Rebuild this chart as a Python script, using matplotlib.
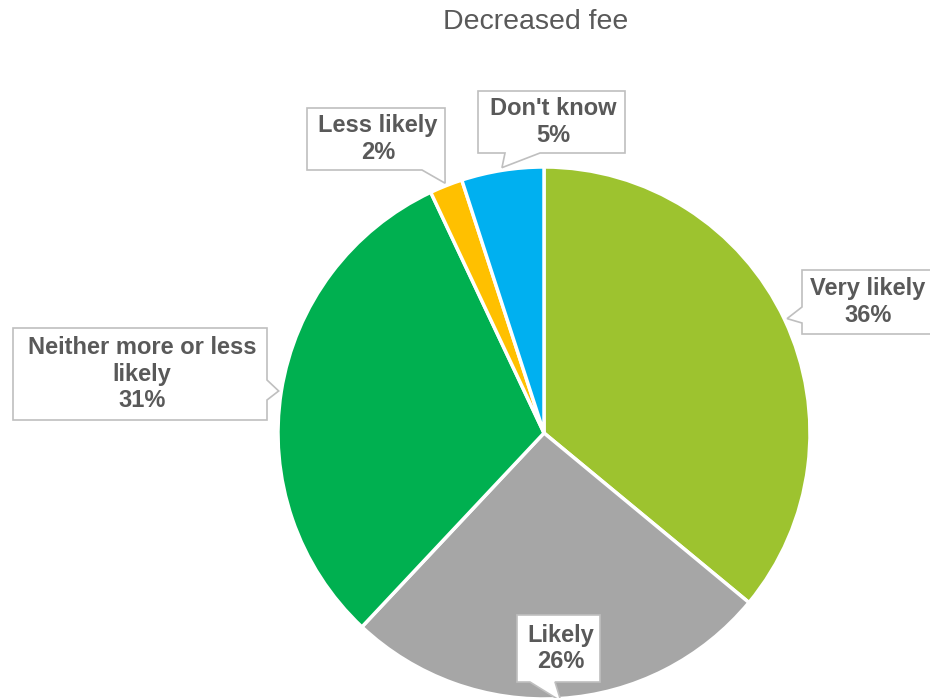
import numpy as np
import matplotlib
matplotlib.use("Agg")
import matplotlib.pyplot as plt
from matplotlib.patches import Polygon

plt.rcParams['font.family'] = ['Liberation Sans', 'DejaVu Sans']

# 数据
labels = ['Very likely', 'Likely', 'Neither more or less\nlikely', 'Less likely', "Don't know"]
values = [36, 26, 31, 2, 5]
colors = ['#9DC32F', '#A6A6A6', '#00B050', '#FFC000', '#00B0F0']
title = 'Decreased fee'

W, H = 930, 698
CX, CY, R = 544, 433, 266          # 饼图中心与半径（像素，y 向下）
TEXT_COLOR = '#595959'
EDGE_COLOR = '#BFBFBF'

# 标注框：(左, 上, 右, 下), 指针所在边, 指针底边两端
boxes = [
    ((802, 270, 935, 334), 'left', (307, 323)),
    ((517, 615, 600, 682), 'bottom', (530, 555)),
    ((13, 328, 267, 420), 'right', (380, 400)),
    ((307, 108, 445, 170), 'bottom', (422, 445)),
    ((478, 91, 625, 153), 'bottom', (505, 540)),
]


def py(y):
    return H - y


def callout_path(box, side, base, tip):
    l, t, r, b = box
    if side == 'bottom':
        pts = [(l, t), (r, t), (r, b), (base[1], b), tip, (base[0], b), (l, b)]
    elif side == 'left':
        pts = [(l, t), (r, t), (r, b), (l, b), (l, base[1]), tip, (l, base[0])]
    else:
        pts = [(l, t), (r, t), (r, base[0]), tip, (r, base[1]), (r, b), (l, b)]
    return [(x, py(y)) for x, y in pts]


fig = plt.figure(figsize=(W / 100, H / 100), dpi=100)
ax = fig.add_axes([0, 0, 1, 1])

wedges, _ = ax.pie(values, colors=colors, startangle=90, counterclock=False,
                   center=(CX, py(CY)), radius=R,
                   wedgeprops=dict(edgecolor='white', linewidth=2.5))

ax.set_xlim(0, W)
ax.set_ylim(0, H)
ax.set_aspect('equal')
ax.axis('off')

total = sum(values)
for w, lab, v, (box, side, base) in zip(wedges, labels, values, boxes):
    mid = np.deg2rad((w.theta1 + w.theta2) / 2)
    tip_x = CX + R * 1.01 * np.cos(mid)
    tip_y = CY - R * 1.01 * np.sin(mid)
    poly = Polygon(callout_path(box, side, base, (tip_x, tip_y)), closed=True,
                   facecolor='white', edgecolor=EDGE_COLOR, linewidth=1.2,
                   clip_on=False, zorder=3)
    ax.add_patch(poly)
    l, t, r, b = box
    pct = f'{v / total * 100:.0f}%'
    ax.text((l + min(r, W)) / 2 + 2, py((t + b) / 2), f'{lab}\n{pct}',
            ha='center', va='center', fontsize=17, fontweight='bold',
            color=TEXT_COLOR, linespacing=1.2, zorder=4)

ax.text(536, py(22), title, ha='center', va='center', fontsize=20.5,
        color=TEXT_COLOR)

fig.savefig('out.png', dpi=100)
